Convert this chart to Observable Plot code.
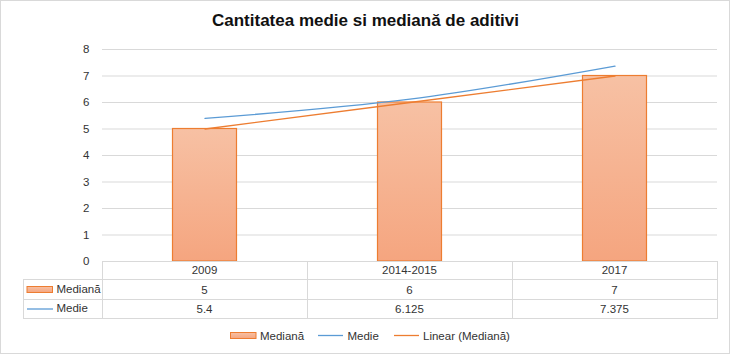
<!DOCTYPE html>
<html>
<head>
<meta charset="utf-8">
<script src="https://cdn.jsdelivr.net/npm/d3@7"></script>
<script src="https://cdn.jsdelivr.net/npm/@observablehq/plot@0.6"></script>
<style>
  html, body { margin: 0; padding: 0; background: #fff; }
  #wrap { position: relative; width: 731px; height: 356px; overflow: hidden; font-family: "Liberation Sans", Arial, sans-serif; }
  #frame { position: absolute; left: 0; top: 0; width: 730px; height: 354px; box-sizing: border-box; border: 1px solid #d9d9d9; pointer-events: none; }
  #title { position: absolute; left: 0; width: 731px; top: 11px; text-align: center; font-weight: bold; font-size: 17px; color: #111; }
  #chart { position: absolute; left: 0; top: 0; }
</style>
</head>
<body>
<div id="wrap">
  <div id="chart"></div>
  <div id="title">Cantitatea medie si mediană de aditivi</div>
  <div id="frame"></div>
</div>
<script>
// ---- data ----
const categories = ["2009", "2014-2015", "2017"];
const mediana = [5, 6, 7];
const medie = [5.4, 6.125, 7.375];
const medianaLabels = ["5", "6", "7"];
const medieLabels = ["5.4", "6.125", "7.375"];
const yTicks = [0, 1, 2, 3, 4, 5, 6, 7, 8];
const seriesNames = ["Mediană", "Medie", "Linear (Mediană)"];

// ---- derived tables ----
const barData = categories.map((c, i) => ({cat: c, v: mediana[i]}));
const medieData = categories.map((c, i) => ({cat: c, v: medie[i]}));
// linear trendline over category index (least squares)
const xs = mediana.map((_, i) => i + 1);
const mx = d3.mean(xs), my = d3.mean(mediana);
const slope = d3.sum(xs.map((x, i) => (x - mx) * (mediana[i] - my))) / d3.sum(xs.map(x => (x - mx) ** 2));
const intercept = my - slope * mx;
const trendData = categories.map((c, i) => ({cat: c, v: intercept + slope * (i + 1)}));

const ORANGE = "#ed7d31", BLUE = "#5b9bd5", GRID = "#d9d9d9", TXT = "#333333";
const FONT = "'Liberation Sans', Arial, sans-serif";

const plot = Plot.plot({
  width: 731,
  height: 356,
  marginLeft: 102,
  marginRight: 14,
  marginTop: 49,
  marginBottom: 95,
  style: {fontFamily: FONT, fontSize: "11.5px", color: TXT, background: "transparent", overflow: "visible"},
  x: {domain: categories, padding: 0, axis: null},
  y: {domain: [0, 8], ticks: yTicks, tickSize: 0, tickPadding: 13, label: null, tickFormat: d3.format("d")},
  marks: [
    Plot.ruleY(yTicks, {stroke: GRID, strokeWidth: 1}),
    Plot.barY(barData, {x: "cat", y: "v", fill: "url(#barGrad)", stroke: ORANGE, strokeWidth: 1.2, insetLeft: 70.5, insetRight: 70.5}),
    Plot.line(trendData, {x: "cat", y: "v", stroke: ORANGE, strokeWidth: 1.3}),
    Plot.line(medieData, {x: "cat", y: "v", stroke: BLUE, strokeWidth: 1.3, curve: "catmull-rom"})
  ]
});
document.getElementById("chart").appendChild(plot);

const svg = d3.select(plot.tagName.toLowerCase() === "svg" ? plot : plot.querySelector("svg"));
// gradient definition
const defs = svg.insert("defs", ":first-child");
const grad = defs.append("linearGradient").attr("id", "barGrad").attr("x1", 0).attr("y1", 0).attr("x2", 0).attr("y2", 1);
grad.append("stop").attr("offset", "0%").attr("stop-color", "#f7c1a4");
grad.append("stop").attr("offset", "100%").attr("stop-color", "#f5a57f");

// scales from the plot
const sx = plot.scale("x"), sy = plot.scale("y");
const bw = sx.bandwidth;
const xL = c => sx.apply(c);
const left = xL(categories[0]);
const right = xL(categories[categories.length - 1]) + bw;
const top0 = sy.apply(0);

// ---- data table ----
const r1 = top0 + 18.5, r2 = r1 + 20, r3 = r2 + 19;
const labelLeft = 23;
const g = svg.append("g").attr("font-family", FONT).attr("font-size", "11.5px").attr("fill", TXT).attr("text-anchor", "start");
const line = (x1, y1, x2, y2) => g.append("line").attr("x1", x1).attr("y1", y1).attr("x2", x2).attr("y2", y2).attr("stroke", GRID).attr("stroke-width", 1).attr("shape-rendering", "crispEdges");
line(left, top0, right, top0);
line(labelLeft, r1, right, r1);
line(labelLeft, r2, right, r2);
line(labelLeft, r3, right, r3);
line(labelLeft, r1, labelLeft, r3);
categories.forEach(c => line(xL(c), top0, xL(c), r3));
line(right, top0, right, r3);

categories.forEach((c, i) => {
  const cx = xL(c) + bw / 2;
  g.append("text").attr("x", cx).attr("y", (top0 + r1) / 2).attr("dy", "0.35em").attr("text-anchor", "middle").text(c);
  g.append("text").attr("x", cx).attr("y", (r1 + r2) / 2).attr("dy", "0.35em").attr("text-anchor", "middle").text(medianaLabels[i]);
  g.append("text").attr("x", cx).attr("y", (r2 + r3) / 2).attr("dy", "0.35em").attr("text-anchor", "middle").text(medieLabels[i]);
});
// row headers with keys
g.append("rect").attr("x", 27).attr("y", (r1 + r2) / 2 - 3).attr("width", 25.5).attr("height", 6).attr("fill", "url(#barGrad)").attr("stroke", ORANGE).attr("stroke-width", 1);
g.append("text").attr("x", 56.5).attr("y", (r1 + r2) / 2 - 1).attr("dy", "0.35em").attr("text-anchor", "start").text(seriesNames[0]);
g.append("line").attr("x1", 27).attr("x2", 53).attr("y1", (r2 + r3) / 2).attr("y2", (r2 + r3) / 2).attr("stroke", BLUE).attr("stroke-width", 1.3);
g.append("text").attr("x", 56.5).attr("y", (r2 + r3) / 2 - 1).attr("dy", "0.35em").attr("text-anchor", "start").text(seriesNames[1]);

// ---- legend ----
const ly = 335.5;
const lg = svg.append("g").attr("font-family", FONT).attr("font-size", "11.5px").attr("fill", TXT).attr("text-anchor", "start");
lg.append("rect").attr("x", 230.5).attr("y", ly - 3).attr("width", 25.5).attr("height", 6).attr("fill", "url(#barGrad)").attr("stroke", ORANGE).attr("stroke-width", 1);
lg.append("text").attr("x", 260).attr("y", ly).attr("dy", "0.35em").text(seriesNames[0]);
lg.append("line").attr("x1", 318).attr("x2", 343).attr("y1", ly).attr("y2", ly).attr("stroke", BLUE).attr("stroke-width", 1.3);
lg.append("text").attr("x", 347.5).attr("y", ly).attr("dy", "0.35em").text(seriesNames[1]);
lg.append("line").attr("x1", 394).attr("x2", 419).attr("y1", ly).attr("y2", ly).attr("stroke", ORANGE).attr("stroke-width", 1.3);
lg.append("text").attr("x", 423).attr("y", ly).attr("dy", "0.35em").text(seriesNames[2]);
</script>
</body>
</html>
